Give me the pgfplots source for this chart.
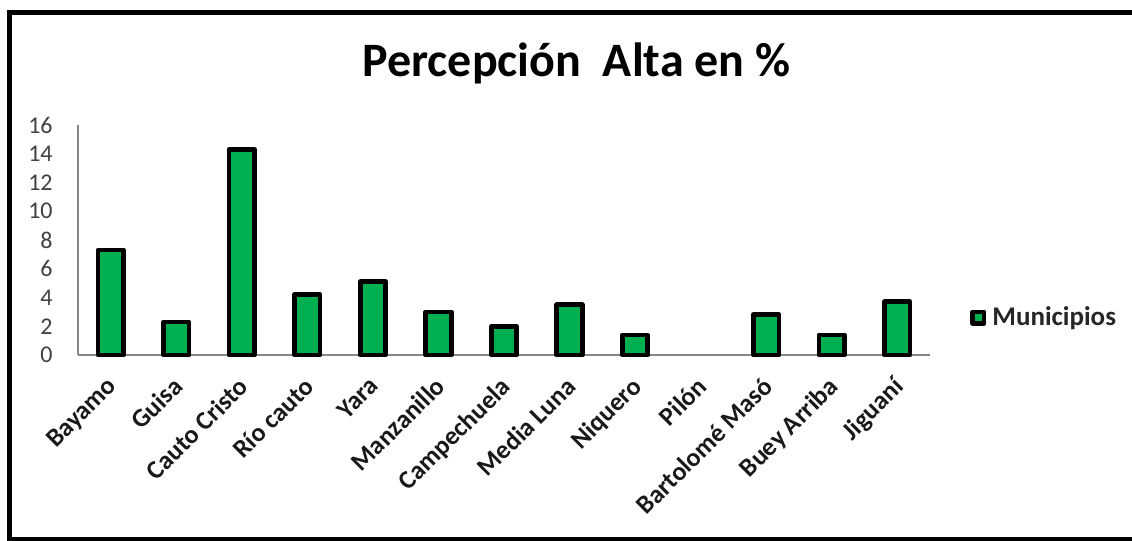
\documentclass[border=0pt]{standalone}
\usepackage{pgfplots}
\pgfplotsset{compat=1.18}
\usepackage{fontspec}
\setmainfont{Carlito}
\definecolor{barg}{HTML}{00B050}
\definecolor{axg}{HTML}{868686}
\definecolor{txt}{HTML}{404040}
\begin{document}
\begin{tikzpicture}
\path[use as bounding box] (0pt,0pt) rectangle (566pt,270.5pt);
% chart frame
\draw[line width=2.5pt, line cap=rect] (4.75pt,1pt) -- (4.75pt,264.25pt) -- (566pt,264.25pt);
\draw[line width=1.75pt] (4.75pt,1pt) -- (566pt,1pt);
% title
\node[anchor=base, font=\fontsize{24}{28}\selectfont\bfseries, text=black, inner sep=0pt]
  at (288.25pt,232pt) {Percepción\ \ Alta en \%};
\begin{axis}[
  at={(39pt,93pt)}, anchor=south west,
  scale only axis, width=426pt, height=115pt,
  ybar, bar width=12.7pt, bar shift=0pt,
  xmin=-0.5, xmax=12.5, ymin=0, ymax=16,
  xtick={0,...,12},
  xticklabels={Bayamo,Guisa,Cauto Cristo,Río cauto,Yara,Manzanillo,Campechuela,Media Luna,Niquero,Pilón,Bartolomé Masó,Buey Arriba,Jiguaní},
  ytick={0,2,...,16},
  major tick length=0pt,
  axis x line*=bottom, axis y line*=left,
  axis line style={axg, line width=0.75pt, -},
  /pgf/number format/assume math mode=true,
  yticklabel style={anchor=east, inner sep=0pt, xshift=-12.5pt, text=txt, font=\fontsize{12}{14}\selectfont},
  xticklabel style={xshift=-2.5pt, yshift=-10pt, rotate=45, anchor=north east, inner sep=0pt, text=black!90, font=\fontsize{13}{15}\selectfont\bfseries},
  clip=false,
  unbounded coords=discard,
  legend style={at={(1.047,0.163)}, anchor=west, draw=none, fill=none, inner sep=0pt,
    font=\fontsize{13.5}{15}\selectfont\bfseries, text=black!85,
    /tikz/every odd column/.append style={column sep=1pt}},
  legend image code/.code={\draw[draw=black, fill=barg, line width=2.3pt, line join=round] (0pt,-2.85pt) rectangle (5.7pt,2.85pt);},
]
\addplot[draw=black, fill=barg, line width=2.35pt, line join=round,
  y filter/.expression={y==0 ? nan : y}]
  coordinates {(0,7.3) (1,2.3) (2,14.3) (3,4.2) (4,5.1) (5,3.0) (6,2.0) (7,3.5) (8,1.4) (9,0) (10,2.8) (11,1.4) (12,3.7)};
\addlegendentry{Municipios}
\end{axis}
\end{tikzpicture}
\end{document}
